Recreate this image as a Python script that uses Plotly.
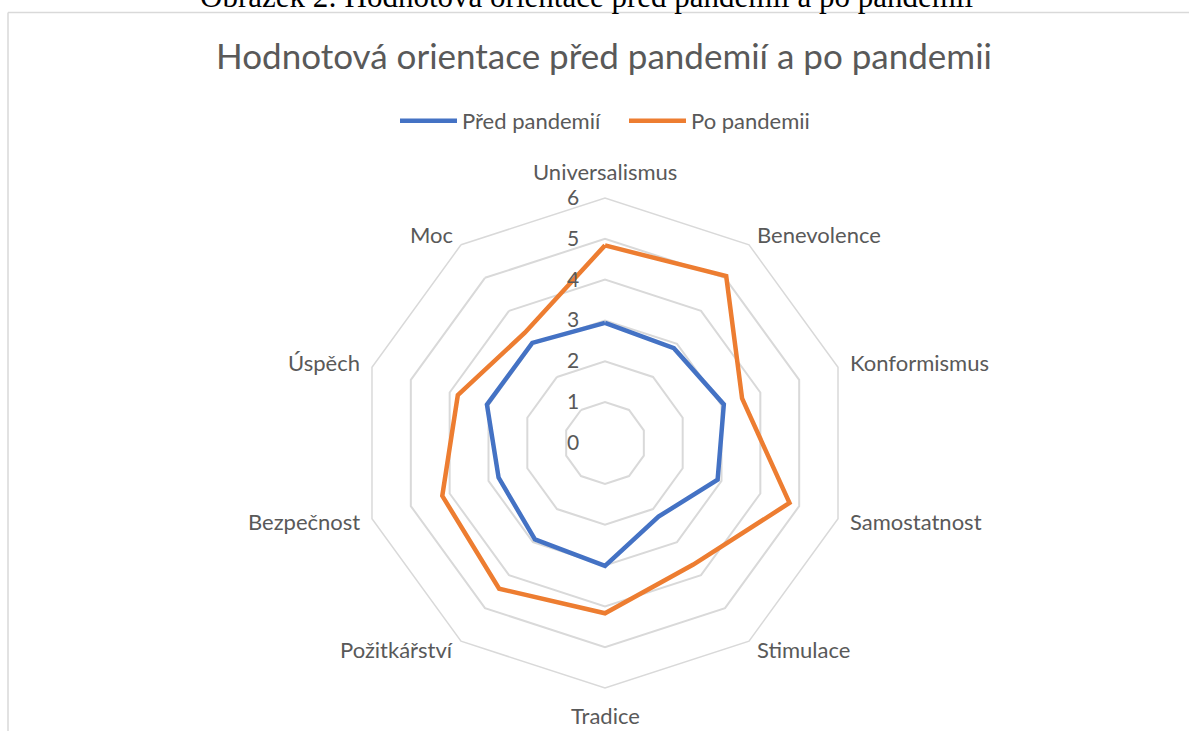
import math
import plotly.graph_objects as go

categories = ["Universalismus", "Benevolence", "Konformismus", "Samostatnost", "Stimulace",
              "Tradice", "Požitkářství", "Bezpečnost", "Úspěch", "Moc"]
pred_pandemii = [2.94, 2.87, 3.06, 2.90, 2.23, 3.01, 2.92, 2.74, 3.04, 3.03]
po_pandemii = [4.84, 5.05, 3.53, 4.75, 3.68, 4.17, 4.41, 4.19, 3.79, 3.34]
radial_ticks = [0, 1, 2, 3, 4, 5, 6]

W, H = 1189, 731
FONT = "Lato"
TXT = "#595959"
GRID = "#d9d9d9"

fig = go.Figure()
fig.add_trace(go.Scatterpolar(
    r=pred_pandemii + pred_pandemii[:1], theta=categories + categories[:1],
    mode="lines", name="Před pandemií",
    line=dict(color="#4472C4", width=4.5)))
fig.add_trace(go.Scatterpolar(
    r=po_pandemii + po_pandemii[:1], theta=categories + categories[:1],
    mode="lines", name="Po pandemii",
    line=dict(color="#ED7D31", width=4.5)))

cx, cy, R = 605, 443, 245

# category labels placed just outside the outer ring
annotations = []
n = len(categories)
for i, cat in enumerate(categories):
    th = 2 * math.pi * i / n
    s, c = math.sin(th), math.cos(th)
    vx, vy = cx + R * s, cy - R * c
    if abs(s) < 1e-6:
        px, py, xa = vx, vy - 27 * c, "center"
    else:
        px = vx + 10 * abs(s) * (1 if s > 0 else -1)
        py = vy - 11 * c - 1
        xa = "left" if s > 0 else "right"
    annotations.append(dict(text=cat, xref="paper", yref="paper", x=px / W, y=1 - py / H,
                            xanchor=xa, yanchor="middle", showarrow=False,
                            font=dict(family=FONT, size=22, color=TXT)))

annotations.append(dict(text="Obrázek 2: Hodnotová orientace před pandemií a po pandemii",
                        xref="paper", yref="paper", x=0.493, y=1 + 4 / H, xanchor="center",
                        yanchor="middle", showarrow=False,
                        font=dict(family="Liberation Serif", size=31, color="black")))

fig.update_layout(
    width=W, height=H,
    margin=dict(l=0, r=0, t=0, b=0),
    paper_bgcolor="white",
    font=dict(family=FONT, color=TXT, size=22),
    title=dict(text="Hodnotová orientace před pandemií a po pandemii",
               x=0.508, xanchor="center", y=1 - 57 / H, yanchor="middle",
               font=dict(family=FONT, size=35, color=TXT)),
    legend=dict(orientation="h", x=395 / W, xanchor="left", y=1 - 121 / H, yanchor="middle",
                font=dict(family=FONT, size=22, color=TXT), itemwidth=57,
                entrywidth=157, entrywidthmode="pixels"),
    polar=dict(
        domain=dict(x=[(cx - R) / W, (cx + R) / W], y=[(H - cy - R) / H, (H - cy + R) / H]),
        gridshape="linear",
        bgcolor="white",
        radialaxis=dict(range=[0, 6], tickvals=radial_ticks, showline=False,
                        gridcolor=GRID, gridwidth=1.5, angle=90, tickangle=90,
                        ticks="outside", ticklen=18, tickcolor="rgba(0,0,0,0)",
                        side="counterclockwise",
                        tickfont=dict(family=FONT, size=21, color=TXT)),
        angularaxis=dict(direction="clockwise", rotation=90, showgrid=False,
                         showline=True, linecolor=GRID, linewidth=1.5,
                         ticks="", showticklabels=False),
    ),
    annotations=annotations,
    shapes=[
        dict(type="line", xref="paper", yref="paper", x0=8 / W, x1=1, y0=1 - 12.5 / H, y1=1 - 12.5 / H,
             line=dict(color=GRID, width=1.5)),
        dict(type="line", xref="paper", yref="paper", x0=8 / W, x1=8 / W, y0=0, y1=1 - 12.5 / H,
             line=dict(color=GRID, width=1.5)),
    ],
)

fig.write_html("out.html", config={"displayModeBar": False},
               post_script="document.body.style.margin='0px';")
